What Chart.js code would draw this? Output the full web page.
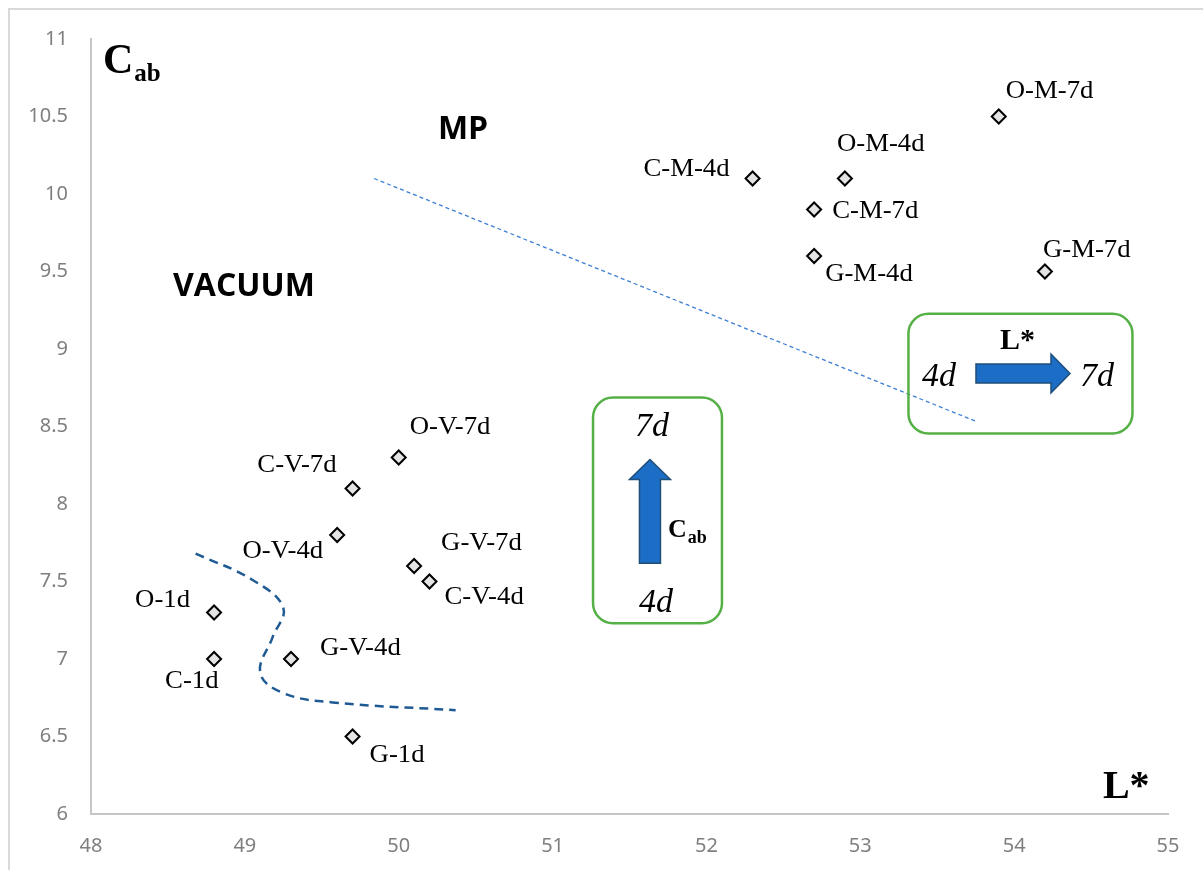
<!DOCTYPE html>
<html><head><meta charset="utf-8">
<script src="https://cdn.jsdelivr.net/npm/chart.js@4.4.1/dist/chart.umd.min.js"></script>
<style>html,body{margin:0;padding:0;background:#fff;}#wrap{width:1203px;height:870px;position:relative}</style>
</head><body><div id="wrap"><canvas id="c" width="1203" height="870"></canvas></div>
<script>
// ---- data ----
const sampleLabels = ['O-1d','C-1d','G-1d','O-V-4d','C-V-4d','G-V-4d','O-V-7d','C-V-7d','G-V-7d','O-M-4d','C-M-4d','G-M-4d','O-M-7d','C-M-7d','G-M-7d'];
const lValues   = [48.8, 48.8, 49.7, 49.6, 50.2, 49.3, 50.0, 49.7, 50.1, 52.9, 52.3, 52.7, 53.9, 52.7, 54.2];
const cabValues = [7.3,  7.0,  6.5,  7.8,  7.5,  7.0,  8.3,  8.1,  7.6,  10.1, 10.1, 9.6,  10.5, 9.9,  9.5];
const xTickValues = [48, 49, 50, 51, 52, 53, 54, 55];
const yTickValues = [6, 6.5, 7, 7.5, 8, 8.5, 9, 9.5, 10, 10.5, 11];
// separating line (MP vs VACUUM)
const trendL = [49.84, 53.76];
const trendC = [10.10, 8.53];
// boundary curve around 1-day samples
const curveL = [48.68, 49.05, 49.25, 49.18, 49.10, 49.25, 49.57, 50.37];
const curveC = [7.68,  7.51,  7.33,  7.14,  6.91,  6.78,  6.72,  6.67];

// ---- label placement (style) ----
const labelPlace = {
  'O-1d':  {dx:-24, dy:-12, a:'right'},
  'C-1d':  {dx:-49, dy:22,  a:'left'},
  'G-1d':  {dx:17,  dy:19,  a:'left'},
  'O-V-4d':{dx:-14, dy:16,  a:'right'},
  'C-V-4d':{dx:15,  dy:16,  a:'left'},
  'G-V-4d':{dx:29,  dy:-11, a:'left'},
  'O-V-7d':{dx:11,  dy:-30, a:'left'},
  'C-V-7d':{dx:-16, dy:-23, a:'right'},
  'G-V-7d':{dx:27,  dy:-23, a:'left'},
  'O-M-4d':{dx:-8,  dy:-34, a:'left'},
  'C-M-4d':{dx:-23, dy:-9,  a:'right'},
  'G-M-4d':{dx:11,  dy:18,  a:'left'},
  'O-M-7d':{dx:7,   dy:-25, a:'left'},
  'C-M-7d':{dx:18,  dy:2,   a:'left'},
  'G-M-7d':{dx:-2,  dy:-21, a:'left'}
};

const pts = lValues.map((v,i)=>({x:v, y:cabValues[i]}));
const trendPts = trendL.map((v,i)=>({x:v, y:trendC[i]}));
const curvePts = curveL.map((v,i)=>({x:v, y:curveC[i]}));

const frame = {
  id:'frame',
  beforeDraw(chart){
    const ctx = chart.ctx;
    ctx.save();
    ctx.fillStyle='#fff'; ctx.fillRect(0,0,chart.width,chart.height);
    ctx.strokeStyle='#d9d9d9'; ctx.lineWidth=2;
    ctx.beginPath(); ctx.moveTo(9,chart.height); ctx.lineTo(9,9); ctx.lineTo(chart.width,9); ctx.stroke();
    ctx.restore();
  }
};

function subText(ctx, main, sub, x, y, mainFont, subFont, subDy){
  ctx.font = mainFont; ctx.textAlign='left'; ctx.textBaseline='alphabetic';
  ctx.fillText(main, x, y);
  const w = ctx.measureText(main).width;
  ctx.font = subFont;
  ctx.fillText(sub, x + w + 1, y + subDy);
}

const labelsPlugin = {
  id:'pointLabels',
  afterDatasetsDraw(chart){
    const ctx = chart.ctx;
    const meta = chart.getDatasetMeta(0);
    ctx.fillStyle='#000';
    ctx.font='25px "Liberation Serif", "Times New Roman", serif';
    ctx.textBaseline='middle';
    meta.data.forEach((el,i)=>{
      const p = labelPlace[sampleLabels[i]];
      ctx.save();
      ctx.translate(el.x + p.dx, el.y + p.dy);
      ctx.scale(1.07, 1);
      ctx.fillStyle='#000';
      ctx.font='25px "Liberation Serif", "Times New Roman", serif';
      ctx.textBaseline='middle';
      ctx.textAlign = p.a;
      ctx.fillText(sampleLabels[i], 0, 0);
      ctx.restore();
    });
  }
};

const annot = {
  id:'annot',
  afterDraw(chart){
    const ctx = chart.ctx, X = chart.scales.x, Y = chart.scales.y;
    const px = v => X.getPixelForValue(v), py = v => Y.getPixelForValue(v);
    ctx.save();
    ctx.fillStyle = '#000';
    // axis titles
    subText(ctx,'C','ab', px(48.078), py(10.781), 'bold 42px "Liberation Serif", serif', 'bold 25px "Liberation Serif", serif', 8);
    ctx.font='bold 40px "Liberation Serif", serif'; ctx.textAlign='left'; ctx.textBaseline='alphabetic';
    ctx.fillText('L*', px(54.577), py(6.103));
    // region labels
    ctx.font='bold 32px "Open Sans", sans-serif';
    ctx.fillText('MP', px(50.255), py(10.356));
    ctx.fillText('VACUUM', px(48.533), py(9.344));

    // boxes
    ctx.strokeStyle='#55b046'; ctx.lineWidth=2.5;
    const box = (x1,y1,x2,y2,r)=>{
      const a=px(x1), b=py(y1), c=px(x2), d=py(y2);
      ctx.beginPath(); ctx.roundRect(a,b,c-a,d-b,r); ctx.stroke();
    };
    box(51.263,8.687,52.101,7.231,20);
    box(53.313,9.228,54.769,8.455,20);

    // arrows
    ctx.fillStyle='#1c6dc6'; ctx.strokeStyle='#1f4e79'; ctx.lineWidth=1.5;
    {
      const cx=px(51.633), tip=py(8.287), bot=py(7.617);
      ctx.beginPath();
      ctx.moveTo(cx, tip); ctx.lineTo(cx+20.5, tip+20); ctx.lineTo(cx+10.5, tip+20);
      ctx.lineTo(cx+10.5, bot); ctx.lineTo(cx-10.5, bot); ctx.lineTo(cx-10.5, tip+20);
      ctx.lineTo(cx-20.5, tip+20); ctx.closePath(); ctx.fill(); ctx.stroke();
    }
    {
      const cy=py(8.842), left=px(53.752), tip=px(54.363);
      ctx.beginPath();
      ctx.moveTo(tip, cy); ctx.lineTo(tip-19, cy-19.5); ctx.lineTo(tip-19, cy-9.5);
      ctx.lineTo(left, cy-9.5); ctx.lineTo(left, cy+9.5); ctx.lineTo(tip-19, cy+9.5);
      ctx.lineTo(tip-19, cy+19.5); ctx.closePath(); ctx.fill(); ctx.stroke();
    }
    // box texts
    ctx.fillStyle='#000';
    ctx.font='italic 34px "Liberation Serif", serif'; ctx.textBaseline='alphabetic';
    ctx.textAlign='center';
    ctx.fillText('7d', px(51.646), py(8.436));
    ctx.fillText('4d', px(51.672), py(7.301));
    ctx.textAlign='left';
    ctx.fillText('4d', px(53.401), py(8.764));
    ctx.fillText('7d', px(54.428), py(8.764));
    subText(ctx,'C','ab', px(51.75), py(7.785), 'bold 26px "Liberation Serif", serif', 'bold 18px "Liberation Serif", serif', 6);
    ctx.font='bold 30px "Liberation Serif", serif'; ctx.textAlign='left';
    ctx.fillText('L*', px(53.908), py(9.003));
    ctx.restore();
  }
};

new Chart(document.getElementById('c'), {
  type:'scatter',
  data:{
    datasets:[
      { label:'samples', data:pts, order:0, pointStyle:'rectRot', pointRadius:7, pointHoverRadius:7,
        backgroundColor:'#e4e4e4', borderColor:'#000', borderWidth:2 },
      { label:'separator', type:'line', data:trendPts, order:2, showLine:true, pointRadius:0,
        borderColor:'#3b7fd4', borderWidth:1.3, borderDash:[4,3], fill:false },
      { label:'boundary', type:'line', data:curvePts, order:1, showLine:true, pointRadius:0, tension:0.4,
        borderColor:'#1f5a94', borderWidth:2.5, borderDash:[9,6], fill:false }
    ]
  },
  options:{
    responsive:false, animation:false, devicePixelRatio:1,
    layout:{padding:{left:9, top:39, right:35, bottom:0}},
    plugins:{legend:{display:false}, tooltip:{enabled:false}},
    scales:{
      x:{ type:'linear', min:48, max:55,
          afterBuildTicks: s => { s.ticks = xTickValues.map(v=>({value:v})); },
          afterFit: s => { s.height = 56; },
          grid:{display:false, drawTicks:false},
          border:{display:true, color:'#c6c6c6', width:2},
          ticks:{color:'#7f7f7f', font:{family:'"Noto Sans", sans-serif', size:20}, padding:20,
                 callback: v => String(v)} },
      y:{ type:'linear', min:6, max:11,
          afterBuildTicks: s => { s.ticks = yTickValues.map(v=>({value:v})); },
          afterFit: s => { s.width = 82; },
          grid:{display:false, drawTicks:false},
          border:{display:true, color:'#c6c6c6', width:2},
          ticks:{color:'#7f7f7f', font:{family:'"Noto Sans", sans-serif', size:20}, padding:23,
                 callback: v => String(v)} }
    }
  },
  plugins:[frame, labelsPlugin, annot]
});
</script></body></html>
